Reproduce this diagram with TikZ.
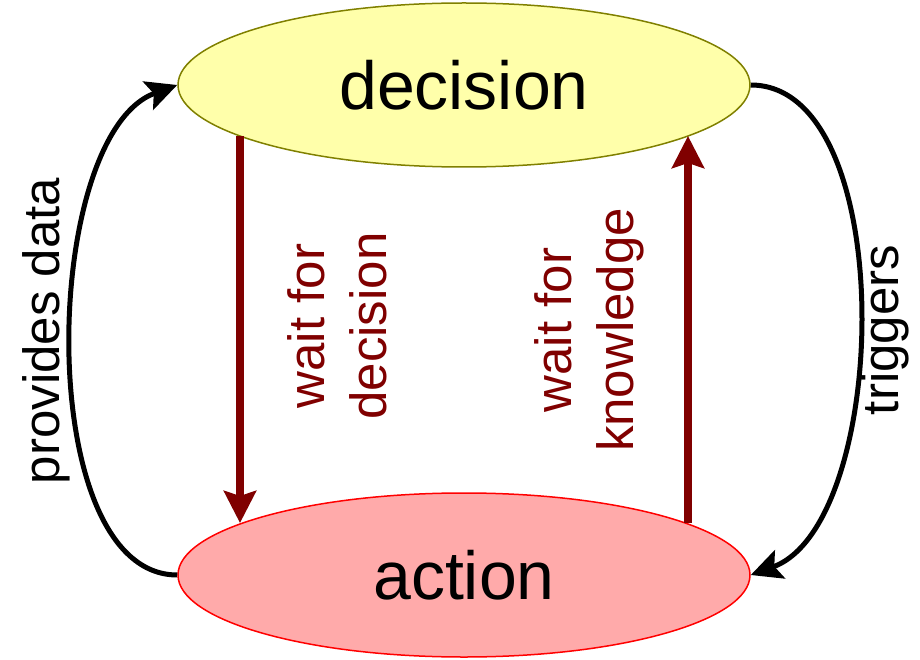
\documentclass[tikz,border=0pt]{standalone}
\usepackage{fontspec}
\setmainfont{Liberation Sans}
\usetikzlibrary{shapes.geometric,arrows.meta,calc}
\definecolor{dred}{HTML}{800000}
\definecolor{decfill}{HTML}{FFFFAA}
\definecolor{decline}{HTML}{808000}
\definecolor{actfill}{HTML}{FFAAAA}
\definecolor{actline}{HTML}{FF0000}
\begin{document}
\begin{tikzpicture}[x=1pt,y=-1pt,
  state/.style={ellipse, minimum width=572pt, minimum height=164pt, inner sep=0pt,
    line width=1.5pt, font=\fontsize{68}{80}\selectfont},
  side/.style={rotate=90, inner sep=0pt, font=\fontsize{51}{60}\selectfont},
  wait/.style={rotate=90, align=center, inner sep=0pt, text=dred,
    font=\fontsize{51}{62}\selectfont},
  flow/.style={line width=8pt, draw=dred,
    -{Stealth[length=32pt,width=32pt,inset=5pt]}},
  loopline/.style={line width=5pt,
    -{Stealth[length=31pt,width=30pt,inset=6pt]}}]
\useasboundingbox (0,0) rectangle (920,660);
\node[state, draw=decline, fill=decfill] (decision) at (464,85) {decision};
\node[state, draw=actline, fill=actfill] (action) at (464,575) {action};
\draw[flow] ($(decision.center)+(-224,51)$) -- ($(action.center)+(-224,-52)$);
\draw[flow] ($(action.center)+(224,-52)$) -- ($(decision.center)+(224,51)$);
\draw[loopline] (action.west) to[out=180, in=200, looseness=0.76] (decision.west);
\draw[loopline] (decision.east) to[out=0, in=20, looseness=0.78] (action.east);
\node[side] (provides) at (46,331) {provides data};
\node[side] (triggers) at (885,330) {triggers};
\node[wait] (waitdec) at (337,326) {wait for\\decision};
\node[wait] (waitknow) at (589,330) {wait for\\knowledge};
\end{tikzpicture}
\end{document}
